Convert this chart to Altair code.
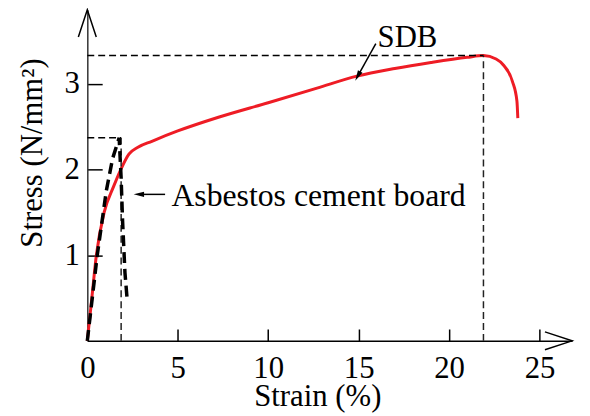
import altair as alt
import pandas as pd

# ---- data ----
sdb_strain = [0, 0.25, 0.5, 0.93, 1.45, 1.85, 2.3, 2.8, 3.57, 5.0, 7.25, 10.0, 12.7, 14.9, 17.0, 19.0, 21.0, 21.9, 22.6, 23.0, 23.5, 23.75, 23.8]
sdb_stress = [0, 0.5, 1.0, 1.5, 1.8, 2.0, 2.18, 2.26, 2.33, 2.45, 2.61, 2.78, 2.95, 3.09, 3.18, 3.25, 3.31, 3.33, 3.29, 3.22, 3.03, 2.8, 2.6]

acb_strain = [0, 0.55, 1.05, 1.4, 1.76, 1.87, 1.95, 2.08, 2.2]
acb_stress = [0, 1.0, 1.75, 2.13, 2.37, 1.9, 1.4, 0.8, 0.49]

peak_strain = [21.9, 1.87]
peak_stress = [3.33, 2.37]

x_ticks = [0, 5, 10, 15, 20, 25]
y_ticks = [1, 2, 3]

labels = ["SDB", "Asbestos cement board"]
label_strain = [17.7, 4.65]
label_stress = [3.53, 1.69]
label_size = [31, 32]
label_align = ["center", "left"]

arrow_from_strain = [15.95, 4.3]
arrow_from_stress = [3.47, 1.71]
arrow_to_strain = [14.95, 2.85]
arrow_to_stress = [3.09, 1.71]
arrow_angle = [208.6, 270]

X_MAX = 26.8
Y_MAX = 3.865
W = 489
H = 334
FONT = "Liberation Serif"
FS = 31

xs = alt.Scale(domain=[0, X_MAX], nice=False, zero=False)
ys = alt.Scale(domain=[0, Y_MAX], nice=False, zero=False)

sdb = pd.DataFrame({"strain": sdb_strain, "stress": sdb_stress, "i": range(len(sdb_strain))})
acb = pd.DataFrame({"strain": acb_strain, "stress": acb_stress, "i": range(len(acb_strain))})
peaks = pd.DataFrame({"strain": peak_strain, "stress": peak_stress, "zero": [0, 0]})
lab = pd.DataFrame({"t": labels, "x": label_strain, "y": label_stress, "a": label_align, "s": label_size})
arr = pd.DataFrame({"x": arrow_from_strain, "y": arrow_from_stress,
                    "x2": arrow_to_strain, "y2": arrow_to_stress, "ang": arrow_angle})
ends = pd.DataFrame({"x": [0, X_MAX], "y": [Y_MAX, 0], "ang": [0, 90]})

# inward ticks are drawn as short grid dashes that sit against the axis line
x_axis = alt.Axis(
    values=x_ticks, format="d", title="Strain (%)", ticks=False, tickSize=0,
    grid=True, gridDash=[0, H - 12, 12, 3000], gridColor="black", gridWidth=1.5, gridOpacity=1,
    domainColor="black", domainWidth=1.5, labelFont=FONT, labelFontSize=FS,
    labelColor="black", labelPadding=13, labelFlush=False,
    titleFont=FONT, titleFontSize=FS, titleFontWeight="normal", titleColor="black",
    titleX=232, titleY=65, titleBaseline="alphabetic", titleAlign="center")
y_axis = alt.Axis(
    values=y_ticks, format="d", title="Stress (N/mm²)", ticks=False, tickSize=0,
    grid=True, gridDash=[15, 3000], gridColor="black", gridWidth=1.5, gridOpacity=1,
    domainColor="#333333", domainWidth=1.5, labelFont=FONT, labelFontSize=FS,
    labelColor="black", labelPadding=8, labelFlush=False,
    titleFont=FONT, titleFontSize=FS, titleFontWeight="normal", titleColor="black",
    titleAngle=270, titleX=-46, titleY=144, titleBaseline="alphabetic", titleAlign="center")

X = lambda f: alt.X(f, scale=xs)
Y = lambda f: alt.Y(f, scale=ys)

sdb_line = alt.Chart(sdb).mark_line(color="#ee1c25", strokeWidth=3, interpolate="monotone").encode(
    x=alt.X("strain:Q", scale=xs, axis=x_axis), y=alt.Y("stress:Q", scale=ys, axis=y_axis), order="i:Q")

hguide = alt.Chart(peaks).mark_rule(strokeDash=[7, 4], strokeWidth=1.5, color="black").encode(
    x=X("zero:Q"), x2="strain:Q", y=Y("stress:Q"))
vguide = alt.Chart(peaks).mark_rule(strokeDash=[7, 4], strokeWidth=1.5, color="#222222").encode(
    x=X("strain:Q"), y=Y("zero:Q"), y2="stress:Q")

acb_line = alt.Chart(acb).mark_line(color="black", strokeWidth=3.5, strokeDash=[11, 6]).encode(
    x=X("strain:Q"), y=Y("stress:Q"), order="i:Q")

text_c = alt.Chart(lab[lab.a == "center"]).mark_text(font=FONT, baseline="middle", align="center", color="black").encode(
    x=X("x:Q"), y=Y("y:Q"), text="t:N", size=alt.Size("s:Q", scale=None))
text_l = alt.Chart(lab[lab.a == "left"]).mark_text(font=FONT, baseline="middle", align="left", color="black").encode(
    x=X("x:Q"), y=Y("y:Q"), text="t:N", size=alt.Size("s:Q", scale=None))

arrow_line = alt.Chart(arr).mark_rule(strokeWidth=1.5, color="black").encode(
    x=X("x:Q"), y=Y("y:Q"), x2="x2:Q", y2="y2:Q")
arrow_head = alt.Chart(arr).mark_point(shape="M -0.5 1 L 0 -1 L 0.5 1 Z", filled=True, size=110,
                                       color="black", opacity=1).encode(
    x=X("x2:Q"), y=Y("y2:Q"), angle=alt.Angle("ang:Q", scale=None))

axis_ends = alt.Chart(ends).mark_point(shape="M -0.33 1 L 0 0 L 0.33 1", filled=False, size=3000,
                                       strokeWidth=1.5, color="black", opacity=1).encode(
    x=X("x:Q"), y=Y("y:Q"), angle=alt.Angle("ang:Q", scale=None))

chart = alt.layer(sdb_line, hguide, vguide, acb_line, arrow_line, arrow_head,
                  text_c, text_l, axis_ends).properties(
    width=W, height=H,
    background="white",
    autosize=alt.AutoSizeParams(type="none"),
    padding={"left": 80, "top": 0, "right": 10, "bottom": 72},
).configure_view(stroke=None)

chart.save("out.html", embed_options={"renderer": "svg", "actions": False})
